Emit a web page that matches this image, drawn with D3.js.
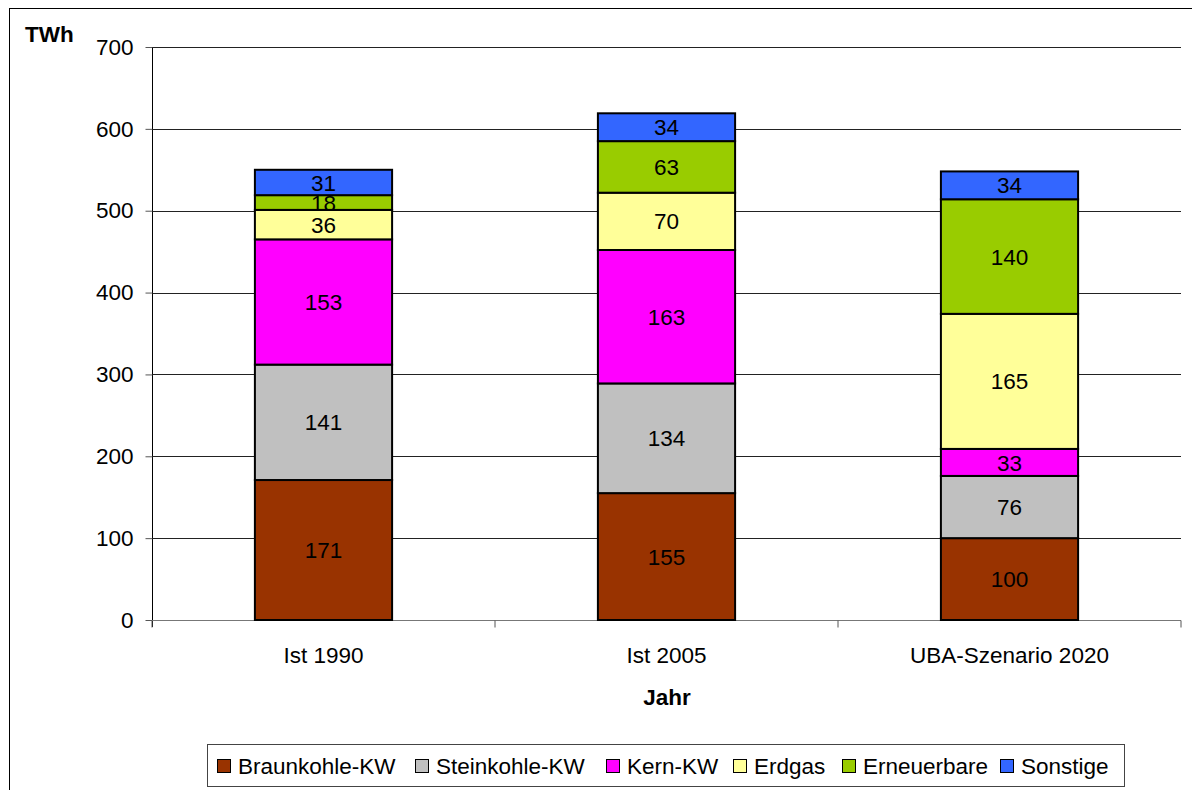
<!DOCTYPE html>
<html>
<head>
<meta charset="utf-8">
<script src="https://cdn.jsdelivr.net/npm/d3@7"></script>
<style>
  body { margin: 0; background: #fff; }
  svg { display: block; font-family: "Liberation Sans", Arial, sans-serif; }
</style>
</head>
<body>
<svg id="chart"></svg>
<script>
const categories = ["Ist 1990", "Ist 2005", "UBA-Szenario 2020"];
const seriesNames = ["Braunkohle-KW", "Steinkohle-KW", "Kern-KW", "Erdgas", "Erneuerbare", "Sonstige"];
const braunkohle = [171, 155, 100];
const steinkohle = [141, 134, 76];
const kern = [153, 163, 33];
const erdgas = [36, 70, 165];
const erneuerbare = [18, 63, 140];
const sonstige = [31, 34, 34];
const yTicks = [0, 100, 200, 300, 400, 500, 600, 700];
const colors = ["#993300", "#C0C0C0", "#FF00FF", "#FFFF99", "#99CC00", "#3366FF"];

const width = 1192;
const height = 790;
const margin = { top: 47, right: 11, bottom: 170, left: 152 };
const fs = 22.5;

const svg = d3.select("#chart")
  .attr("width", width)
  .attr("height", height);

// outer frame
svg.append("rect")
  .attr("x", 9.5).attr("y", 8.5)
  .attr("width", width).attr("height", height)
  .attr("fill", "none").attr("stroke", "#000").attr("stroke-width", 1);

const seriesValues = [braunkohle, steinkohle, kern, erdgas, erneuerbare, sonstige];
const table = categories.map((c, i) => {
  const row = { cat: c };
  seriesNames.forEach((s, j) => row[s] = seriesValues[j][i]);
  return row;
});
const stacked = d3.stack().keys(seriesNames)(table);

const x = d3.scaleBand()
  .domain(categories)
  .range([margin.left, width - margin.right])
  .paddingInner(0.6)
  .paddingOuter(0.3);

const y = d3.scaleLinear()
  .domain([0, 700])
  .range([620, margin.top]);

// gridlines
svg.append("g")
  .selectAll("line")
  .data(yTicks.filter(d => d > 0))
  .join("line")
  .attr("x1", margin.left).attr("x2", width - margin.right)
  .attr("y1", d => Math.round(y(d)) + 0.5).attr("y2", d => Math.round(y(d)) + 0.5)
  .attr("stroke", "#222");

// y axis
const yAxis = svg.append("g")
  .attr("transform", `translate(${margin.left + 0.5},0)`)
  .call(d3.axisLeft(y).tickValues(yTicks).tickSize(7).tickPadding(12).tickSizeOuter(0));
yAxis.select(".domain").attr("stroke", "#000")
  .attr("d", `M0,${y(700)}V${y(0) + 7}`);
yAxis.selectAll(".tick line").attr("stroke", "#555");
yAxis.selectAll(".tick text")
  .attr("font-size", fs).attr("fill", "#000")
  .attr("font-family", "Liberation Sans, Arial, sans-serif");

// x axis
const xAxisY = Math.round(y(0)) + 0.5;
const xAxis = svg.append("g").attr("transform", `translate(0,${xAxisY})`);
xAxis.append("line")
  .attr("x1", margin.left).attr("x2", width - margin.right)
  .attr("stroke", "#777");
const step = (width - margin.right - margin.left) / categories.length;
xAxis.selectAll(".xt")
  .data(d3.range(categories.length + 1))
  .join("line")
  .attr("class", "xt")
  .attr("x1", d => margin.left + d * step).attr("x2", d => margin.left + d * step)
  .attr("y1", 0).attr("y2", 7)
  .attr("stroke", "#555");
xAxis.selectAll("text")
  .data(categories)
  .join("text")
  .attr("x", d => x(d) + x.bandwidth() / 2)
  .attr("y", 42)
  .attr("text-anchor", "middle")
  .attr("font-size", fs)
  .text(d => d);

// bars
const layers = svg.append("g")
  .selectAll("g")
  .data(stacked)
  .join("g")
  .attr("fill", (d, i) => colors[i]);

layers.selectAll("rect")
  .data(d => d)
  .join("rect")
  .attr("x", d => x(d.data.cat))
  .attr("y", d => y(d[1]))
  .attr("width", x.bandwidth())
  .attr("height", d => y(d[0]) - y(d[1]))
  .attr("stroke", "#000")
  .attr("stroke-width", 2);

layers.selectAll("text")
  .data(d => d.map(v => ({ v, key: d.key })))
  .join("text")
  .attr("x", d => x(d.v.data.cat) + x.bandwidth() / 2)
  .attr("y", d => (y(d.v[0]) + y(d.v[1])) / 2)
  .attr("dy", "0.36em")
  .attr("text-anchor", "middle")
  .attr("font-size", fs)
  .attr("fill", "#000")
  .text(d => d.v.data[d.key]);

// axis titles
svg.append("text")
  .attr("x", 25).attr("y", 42)
  .attr("font-size", fs).attr("font-weight", "bold")
  .text("TWh");

svg.append("text")
  .attr("x", 667).attr("y", 705)
  .attr("text-anchor", "middle")
  .attr("font-size", fs).attr("font-weight", "bold")
  .text("Jahr");

// legend
const legend = svg.append("g");
legend.append("rect")
  .attr("x", 207.5).attr("y", 744.5)
  .attr("width", 917).attr("height", 42)
  .attr("fill", "#fff").attr("stroke", "#444");

const itemX = [217, 415, 606, 733, 842, 1000];
const items = legend.selectAll(".item")
  .data(seriesNames)
  .join("g")
  .attr("class", "item")
  .attr("transform", (d, i) => `translate(${itemX[i]},766)`);
items.append("rect")
  .attr("x", 0.5).attr("y", -6.5)
  .attr("width", 13).attr("height", 13)
  .attr("fill", (d, i) => colors[i])
  .attr("stroke", "#000");
items.append("text")
  .attr("x", 21).attr("dy", "0.36em")
  .attr("font-size", fs)
  .text(d => d);
</script>
</body>
</html>
